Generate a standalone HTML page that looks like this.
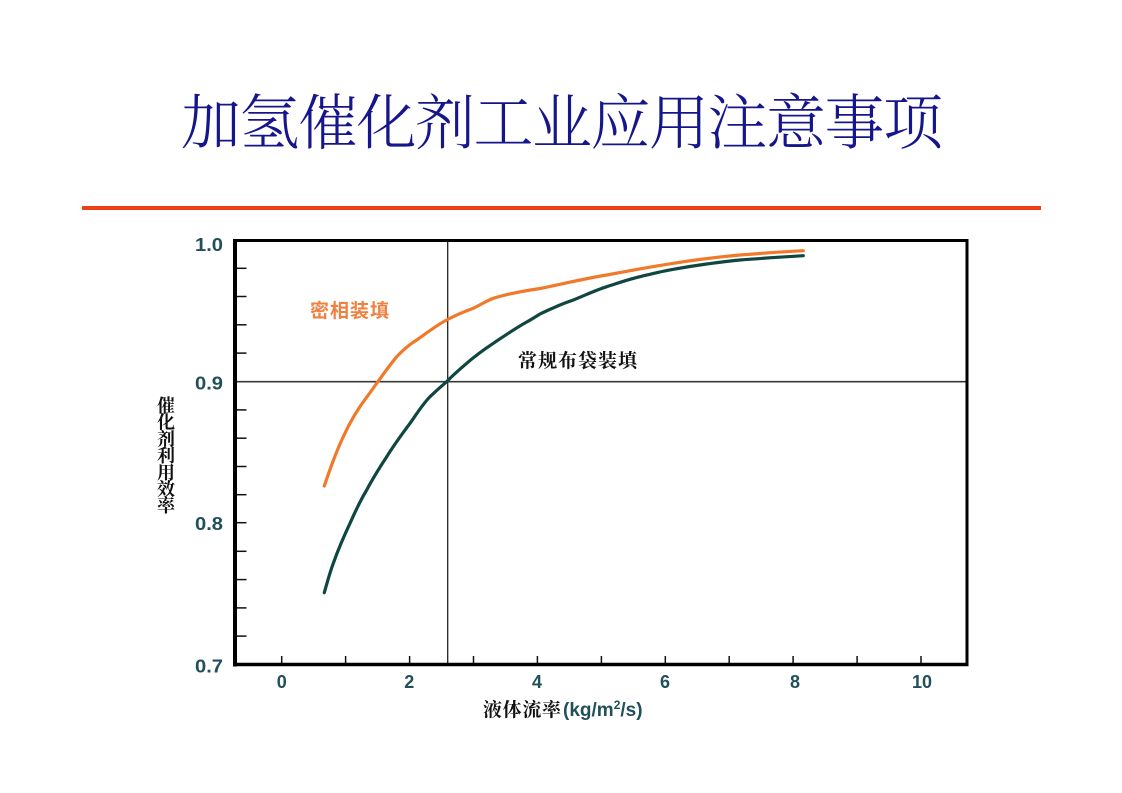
<!DOCTYPE html>
<html>
<head>
<meta charset="utf-8">
<style>
  html,body{margin:0;padding:0;background:#ffffff;}
  body{width:1122px;height:793px;overflow:hidden;}
  svg{display:block;}
</style>
</head>
<body>
<svg width="1122" height="793" viewBox="0 0 1122 793" xmlns="http://www.w3.org/2000/svg">
  <rect x="0" y="0" width="1122" height="793" fill="#ffffff"/>

  <!-- Title -->
  <text x="181" y="144" font-family="'Liberation Serif','Noto Serif CJK SC',serif" font-size="60" font-weight="300" fill="#16168c" textLength="762" lengthAdjust="spacing">加氢催化剂工业应用注意事项</text>

  <!-- Red rule -->
  <rect x="82" y="206" width="959" height="4" fill="#ee4014"/>

  <!-- Grid/reference lines -->
  <line x1="236" y1="381.7" x2="966" y2="381.7" stroke="#3a3a3a" stroke-width="1.6"/>
  <line x1="447.7" y1="241" x2="447.7" y2="663" stroke="#222" stroke-width="1.3"/>

  <!-- Y minor ticks (every 0.02) -->
  <g stroke="#111" stroke-width="1.5">
    <line x1="236" y1="268.3" x2="246.5" y2="268.3"/>
    <line x1="236" y1="296.5" x2="246.5" y2="296.5"/>
    <line x1="236" y1="324.8" x2="246.5" y2="324.8"/>
    <line x1="236" y1="353.1" x2="246.5" y2="353.1"/>
    <line x1="236" y1="409.9" x2="246.5" y2="409.9"/>
    <line x1="236" y1="438.2" x2="246.5" y2="438.2"/>
    <line x1="236" y1="466.5" x2="246.5" y2="466.5"/>
    <line x1="236" y1="494.7" x2="246.5" y2="494.7"/>
    <line x1="236" y1="522.7" x2="246.5" y2="522.7"/>
    <line x1="236" y1="551.3" x2="246.5" y2="551.3"/>
    <line x1="236" y1="579.6" x2="246.5" y2="579.6"/>
    <line x1="236" y1="607.9" x2="246.5" y2="607.9"/>
    <line x1="236" y1="636.1" x2="246.5" y2="636.1"/>
  </g>

  <!-- X ticks -->
  <g stroke="#111" stroke-width="1.5">
    <line x1="281.7" y1="663" x2="281.7" y2="656"/>
    <line x1="345.6" y1="663" x2="345.6" y2="656"/>
    <line x1="409.6" y1="663" x2="409.6" y2="656"/>
    <line x1="473.5" y1="663" x2="473.5" y2="656"/>
    <line x1="537.4" y1="663" x2="537.4" y2="656"/>
    <line x1="601.4" y1="663" x2="601.4" y2="656"/>
    <line x1="665.3" y1="663" x2="665.3" y2="656"/>
    <line x1="729.2" y1="663" x2="729.2" y2="656"/>
    <line x1="793.1" y1="663" x2="793.1" y2="656"/>
    <line x1="857.1" y1="663" x2="857.1" y2="656"/>
    <line x1="921" y1="663" x2="921" y2="656"/>
  </g>

  <!-- Frame -->
  <line x1="233" y1="240.5" x2="968.5" y2="240.5" stroke="#000" stroke-width="3"/>
  <line x1="967" y1="239" x2="967" y2="666" stroke="#000" stroke-width="3"/>
  <line x1="235" y1="239" x2="235" y2="666.5" stroke="#000" stroke-width="4"/>
  <line x1="233" y1="664.5" x2="968.5" y2="664.5" stroke="#000" stroke-width="3.5"/>

  <!-- Curves -->
  <path fill="none" stroke="#f07a2a" stroke-width="3.2" stroke-linejoin="round" stroke-linecap="round"
    d="M324.3,486 C329,472 336,452 343.3,436.7 C349,424 356,411 368.3,395 C375,386 385,371 396.7,356.7 C404,349 410,344 416.7,340 C428,332 437,325 446.7,320 C458,314 466,311 473.3,308.3 C482,304 488,300 493.3,298.3 C510,293 530,290 540,288.5 C560,284.5 580,279.5 606.7,275 C630,270.5 650,267 673.3,263.3 C700,259 720,256.8 740,255 C765,253 785,251.6 803.3,250.7"/>
  <path fill="none" stroke="#0f4640" stroke-width="3.2" stroke-linejoin="round" stroke-linecap="round"
    d="M324.3,592.7 C327,583 330,572 333.3,563.3 C338,550 344,536 350,523.3 C355,512 360,501 366.7,490 C373,478 380,467 386.7,456.7 C394,445 402,434 410,423.3 C416,415 422,405 430,396.7 C436,391 441,386.5 446.7,381.7 C453,375 460,369 466.7,363.3 C475,356 484,349.5 493.3,343.3 C505,335.5 515,328.5 526.7,322 C533,318.5 537,315.8 540,314 C548,310 553,308 560,305 C564,303.3 569,301.5 573.3,300 C585,295.3 595,290.5 606.7,286.7 C618,283 628,279.5 640,276.7 C652,273.8 662,271.2 673.3,269.3 C685,267.2 695,265.6 706.7,264 C718,262.5 728,261 740,260 C760,258.4 782,257 803.3,255.7"/>

  <!-- Y tick labels -->
  <g font-family="'Liberation Sans',sans-serif" font-weight="bold" font-size="18" fill="#21505a" text-anchor="end">
    <text x="223" y="251" textLength="28" lengthAdjust="spacingAndGlyphs">1.0</text>
    <text x="223" y="389.5" textLength="28" lengthAdjust="spacingAndGlyphs">0.9</text>
    <text x="223" y="530" textLength="28" lengthAdjust="spacingAndGlyphs">0.8</text>
    <text x="223" y="672.5" textLength="28" lengthAdjust="spacingAndGlyphs">0.7</text>
  </g>

  <!-- X tick labels -->
  <g font-family="'Liberation Sans',sans-serif" font-weight="bold" font-size="18" fill="#21505a" text-anchor="middle">
    <text x="281.7" y="688">0</text>
    <text x="409.3" y="688">2</text>
    <text x="537" y="688">4</text>
    <text x="665" y="688">6</text>
    <text x="795" y="688">8</text>
    <text x="922" y="688">10</text>
  </g>

  <!-- Series labels -->
  <text x="310" y="317" font-family="'Liberation Sans','Noto Sans CJK SC',sans-serif" font-weight="bold" font-size="19" fill="#f08040" textLength="79" lengthAdjust="spacing">密相装填</text>
  <text x="518" y="367" font-family="'Liberation Serif','Noto Serif CJK SC',serif" font-weight="bold" font-size="19" fill="#111" textLength="119" lengthAdjust="spacing">常规布袋装填</text>

  <!-- Y axis title (vertical) -->
  <g font-family="'Liberation Serif','Noto Serif CJK SC',serif" font-weight="bold" font-size="18" fill="#111" text-anchor="middle">
    <text x="166" y="412">催</text>
    <text x="166" y="428.7">化</text>
    <text x="166" y="445.4">剂</text>
    <text x="166" y="462.1">利</text>
    <text x="166" y="478.8">用</text>
    <text x="166" y="495.5">效</text>
    <text x="166" y="512.2">率</text>
  </g>

  <!-- X axis title -->
  <text x="483" y="716" font-family="'Liberation Serif','Noto Serif CJK SC',serif" font-weight="bold" font-size="19" fill="#111" textLength="78" lengthAdjust="spacing">液体流率</text>
  <text x="563" y="716" font-family="'Liberation Sans',sans-serif" font-weight="bold" font-size="19" fill="#21505a">(kg/m<tspan font-size="12" dy="-7">2</tspan><tspan dy="7">/s)</tspan></text>
</svg>
</body>
</html>
